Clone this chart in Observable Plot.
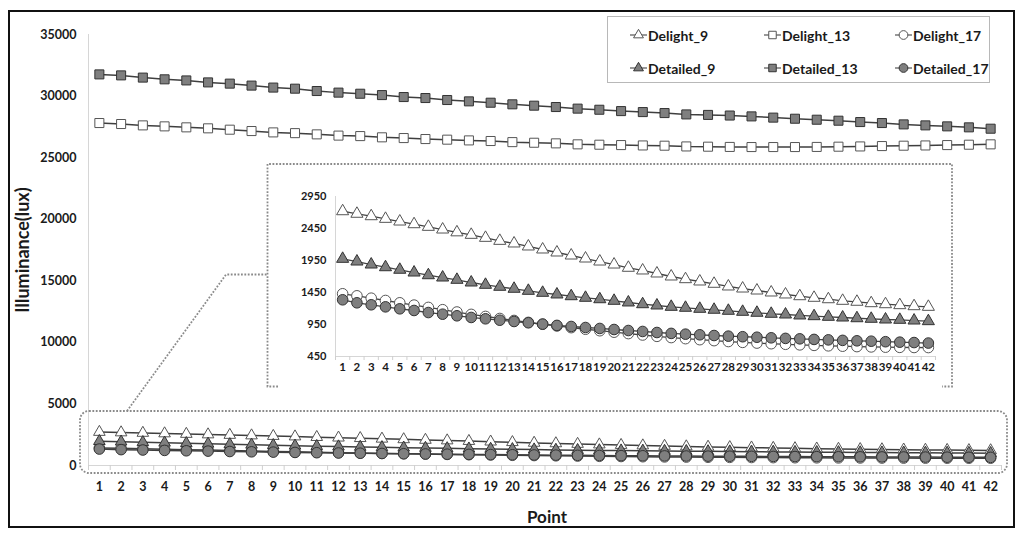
<!DOCTYPE html>
<html>
<head>
<meta charset="utf-8">
<script src="https://cdn.jsdelivr.net/npm/d3@7"></script>
<script src="https://cdn.jsdelivr.net/npm/@observablehq/plot@0.6"></script>
<style>
  body { margin: 0; background: #fff; }
  #wrap { position: relative; width: 1024px; height: 537px; background: #fff; overflow: hidden;
          font-family: Lato, "Open Sans", "DejaVu Sans", sans-serif; font-weight: bold; color: #1a1a1a; }
  #main, #inset { position: absolute; }
  #main { left: 0; top: 0; }
  #inset { left: 270px; top: 170px; }
  #frame { position: absolute; left: 8px; top: 10px; width: 1007px; height: 518px; box-sizing: border-box;
           border: 2px solid #111; pointer-events: none; }
  #callout { position: absolute; left: 0; top: 0; pointer-events: none; }
  #legend { position: absolute; left: 607px; top: 16px; width: 383px; height: 67px; box-sizing: border-box;
            border: 1px solid #b8b8b8; background: #fff; }
  .item { position: absolute; display: flex; align-items: center; font-size: 14px; white-space: nowrap; }
  .item svg { display: block; }
  #ytitle { position: absolute; left: 22px; top: 250px; transform: translate(-50%, -50%) rotate(-90deg);
            font-size: 18px; white-space: nowrap; }
  #xtitle { position: absolute; left: 547px; top: 516px; transform: translate(-50%, -50%);
            font-size: 17px; white-space: nowrap; }
</style>
</head>
<body>
<div id="wrap">
  <div id="main"></div>
  <svg id="callout" width="1024" height="537"></svg>
  <div id="inset"></div>
  <div id="legend"></div>
  <div id="ytitle">Illuminance(lux)</div>
  <div id="xtitle">Point</div>
  <div id="frame"></div>
</div>
<script>
// ---- data ----
const points = [1,2,3,4,5,6,7,8,9,10,11,12,13,14,15,16,17,18,19,20,21,22,23,24,25,26,27,28,29,30,31,32,33,34,35,36,37,38,39,40,41,42];

const delight9 = [2720,2680,2642,2601,2559,2517,2476,2434,2390,2351,2304,2257,2216,2169,2122,2075,2028,1981,1934,1887,1836,1794,1747,1700,1658,1622,1586,1544,1512,1481,1450,1419,1392,1367,1345,1320,1305,1283,1267,1252,1236,1226];
const delight13 = [27810,27730,27620,27540,27460,27380,27270,27160,27050,26990,26890,26790,26750,26650,26590,26510,26460,26400,26350,26260,26210,26160,26080,26050,26020,25990,25970,25910,25890,25870,25860,25860,25860,25870,25890,25910,25940,25970,25990,26020,26050,26080];
const delight17 = [1430,1398,1361,1325,1289,1253,1217,1181,1145,1108,1076,1044,1013,983,954,927,901,876,853,830,808,786,765,746,729,713,698,684,671,660,650,641,632,624,617,611,605,600,596,593,591,590];
const detailed9 = [1976,1934,1887,1845,1805,1762,1720,1684,1648,1606,1570,1539,1508,1476,1445,1419,1392,1367,1345,1320,1294,1267,1247,1226,1211,1195,1180,1164,1148,1133,1117,1106,1091,1080,1070,1059,1048,1039,1028,1023,1012,1002];
const detailed13 = [31760,31680,31500,31360,31270,31110,31010,30850,30690,30600,30410,30280,30190,30080,29920,29840,29680,29570,29460,29330,29220,29110,28980,28890,28780,28700,28620,28510,28470,28420,28350,28250,28160,28080,28000,27890,27810,27700,27620,27540,27460,27350];
const detailed17 = [1336,1289,1258,1226,1195,1169,1137,1111,1086,1060,1039,1017,997,977,956,936,919,903,888,872,856,841,825,811,799,789,778,768,759,751,742,733,726,717,710,702,695,689,681,674,668,660];

const seriesNames = ["Delight_9","Delight_13","Delight_17","Detailed_9","Detailed_13","Detailed_17"];
const mainTicks = [0,5000,10000,15000,20000,25000,30000,35000];
const insetTicks = [450,950,1450,1950,2450,2950];

// ---- styling per series ----
const OPEN = {fill: "#ffffff", stroke: "#555555"};
const FILLED = {fill: "#7f7f7f", stroke: "#333333"};
const series = [
  {name: seriesNames[0], values: delight9,  symbol: "triangle", ...OPEN,   inset: true},
  {name: seriesNames[1], values: delight13, symbol: "square",   ...OPEN,   inset: false},
  {name: seriesNames[2], values: delight17, symbol: "circle",   ...OPEN,   inset: true},
  {name: seriesNames[3], values: detailed9, symbol: "triangle", ...FILLED, inset: true},
  {name: seriesNames[4], values: detailed13,symbol: "square",   ...FILLED, inset: false},
  {name: seriesNames[5], values: detailed17,symbol: "circle",   ...FILLED, inset: true}
];
const rows = s => points.map((p, i) => ({point: p, value: s.values[i], series: s.name}));
const bounds = [0.5, ...points.map(p => p + 0.5)];
const rMain = {triangle: 4.3, square: 5.1, circle: 5.3};
const rInset = {triangle: 4.5, square: 5, circle: 5.3};
const font = 'Lato, "Open Sans", "DejaVu Sans", sans-serif';

// ---- main chart ----
const main = Plot.plot({
  width: 1024, height: 537,
  marginLeft: 88, marginRight: 23, marginTop: 34, marginBottom: 72,
  x: {domain: [0.5, 42.5]},
  y: {domain: [0, 35000]},
  style: {fontFamily: font, fontSize: "12px", fontWeight: "bold", background: "transparent", color: "#1a1a1a"},
  marks: [
    Plot.ruleX([0.5], {stroke: "#d6d6d6"}),
    Plot.ruleY([0], {stroke: "#d6d6d6"}),
    Plot.axisX(bounds, {tickSize: 5, stroke: "#cfcfcf", tickFormat: () => "", label: null}),
    Plot.axisX(points, {tickSize: 0, tickPadding: 17, tickFormat: "d", label: null, fontSize: 12.5}),
    Plot.axisY(mainTicks, {tickSize: 0, tickPadding: 12, tickFormat: "d", label: null, fontSize: 12.5}),
    ...series.map(s => Plot.line(rows(s), {x: "point", y: "value", stroke: "#3f3f3f", strokeWidth: 1.5})),
    ...series.map(s => Plot.dot(rows(s), {x: "point", y: "value", symbol: s.symbol, r: rMain[s.symbol],
                                           fill: s.fill, stroke: s.stroke, strokeWidth: 1}))
  ]
});
document.getElementById("main").append(main);

// ---- inset (zoom of the low series) ----
const insetSeries = series.filter(s => s.inset);
const inset = Plot.plot({
  width: 680, height: 215,
  marginLeft: 65, marginRight: 15, marginTop: 26, marginBottom: 29,
  x: {domain: [0.5, 42.5]},
  y: {domain: [450, 2950]},
  style: {fontFamily: font, fontSize: "11px", fontWeight: "bold", background: "transparent", color: "#1a1a1a"},
  marks: [
    Plot.ruleX([0.5], {stroke: "#d6d6d6"}),
    Plot.ruleY([450], {stroke: "#d6d6d6"}),
    Plot.axisX(bounds, {tickSize: 4, stroke: "#cfcfcf", tickFormat: () => "", label: null}),
    Plot.axisX(points, {tickSize: 0, tickPadding: 6, tickFormat: "d", label: null, fontSize: 11.5, letterSpacing: "-0.4px"}),
    Plot.axisY(insetTicks, {tickSize: 0, tickPadding: 9, tickFormat: "d", label: null, fontSize: 11}),
    ...insetSeries.map(s => Plot.line(rows(s), {x: "point", y: "value", stroke: "#444", strokeWidth: 1.3})),
    ...insetSeries.map(s => Plot.dot(rows(s), {x: "point", y: "value", symbol: s.symbol, r: rInset[s.symbol],
                                                fill: s.fill, stroke: s.stroke, strokeWidth: 1}))
  ]
});
document.getElementById("inset").append(inset);

// ---- dotted callout (decoration) ----
const co = d3.select("#callout");
const dot = sel => sel.attr("fill", "none").attr("stroke", "#8a8a8a").attr("stroke-width", 1.8).attr("stroke-dasharray", "1.8 1.6");
co.append("rect").attr("x", 80).attr("y", 411).attr("width", 927).attr("height", 62).attr("rx", 9).call(dot);
co.append("path").attr("d", "M278,386.5 H267.5 V164 H952 V386.5 H942").call(dot);
co.append("path").attr("d", "M127,411 L226,274.5 H267.5").call(dot);

// ---- legend ----
const legend = d3.select("#legend");
const colX = [21, 155, 286];
const rowY = [18, 51];
series.forEach((s, i) => {
  const col = i % 3, row = Math.floor(i / 3);
  const item = legend.append("div").attr("class", "item")
    .style("left", colX[col] + "px").style("top", (rowY[row] - 9) + "px").style("height", "18px");
  const svg = item.append("svg").attr("width", 19).attr("height", 18);
  svg.append("line").attr("x1", 1).attr("x2", 18).attr("y1", 9).attr("y2", 9).attr("stroke", "#555").attr("stroke-width", 1.2);
  const sym = {triangle: d3.symbolTriangle, square: d3.symbolSquare, circle: d3.symbolCircle}[s.symbol];
  const size = {triangle: 42, square: 56, circle: 60}[s.symbol];
  svg.append("path").attr("d", d3.symbol(sym, size)()).attr("transform", "translate(9.5,9)")
    .attr("fill", s.fill).attr("stroke", s.stroke).attr("stroke-width", 1);
  item.append("span").text(s.name);
});
</script>
</body>
</html>
